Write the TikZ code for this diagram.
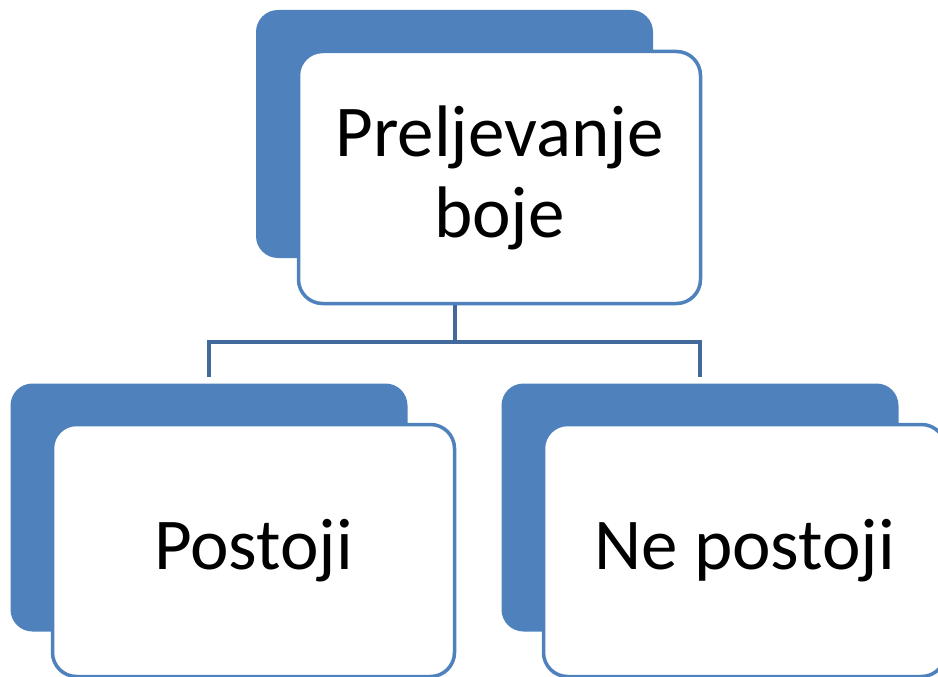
\documentclass[tikz,border=0pt]{standalone}
\usepackage{fontspec}
\setmainfont{Carlito}
\definecolor{boxblue}{HTML}{4F81BD}
\definecolor{linkblue}{HTML}{41699B}
\begin{document}
\begin{tikzpicture}[x=1pt, y=-1pt,
  shadowbox/.style = {shape=rectangle, rounded corners=22pt, fill=boxblue,
    minimum width=397pt, minimum height=248pt, inner sep=0pt},
  frontbox/.style = {shape=rectangle, rounded corners=24pt, draw=boxblue,
    line width=3.5pt, fill=white, align=center, minimum width=402pt,
    minimum height=252pt, inner sep=0pt, font=\fontsize{73}{81}\selectfont},
  link/.style = {draw=linkblue, line width=4pt}]
  \useasboundingbox (0,0) rectangle (938,677);
  % top
  \node[shadowbox] (topback) at (454.5,134) {};
  \node[frontbox] (top) at (499.5,177.5) {Preljevanje\\boje};
  % children
  \node[shadowbox] (leftback) at (209,507.5) {};
  \node[frontbox] (left) at (253.5,550.5) {Postoji};
  \node[shadowbox] (rightback) at (700,507.5) {};
  \node[frontbox] (right) at (744.5,550.5) {Ne postoji};
  % fork
  \draw[link] (topback.south |- top.south) -- ++(0,37) coordinate (fork)
    -| ([yshift=6pt]leftback.north);
  \draw[link] (fork) -| ([yshift=6pt]rightback.north);
\end{tikzpicture}
\end{document}
